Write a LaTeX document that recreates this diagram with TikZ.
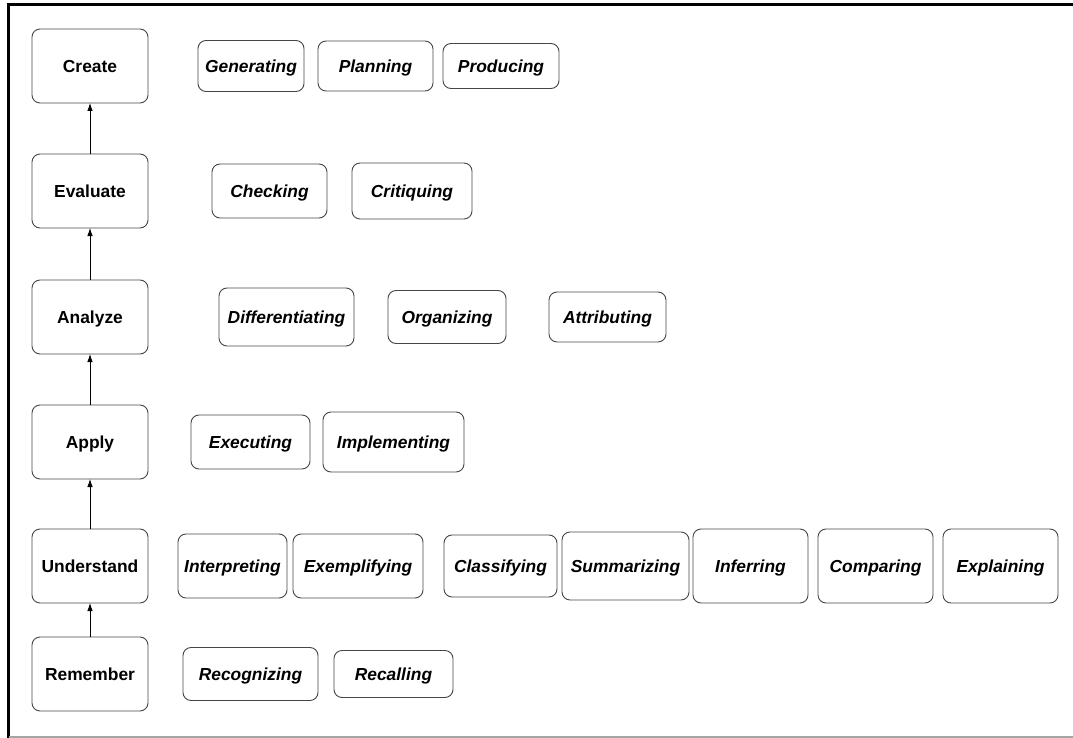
\documentclass[tikz,border=0pt]{standalone}
\usepackage{fontspec}
\setmainfont{Liberation Sans}
\usepackage{xcolor}
\usetikzlibrary{positioning,arrows.meta}
\definecolor{boxgray}{RGB}{70,70,70}
\definecolor{framegray}{RGB}{165,165,165}

\begin{document}
\begin{tikzpicture}[x=1pt, y=-1pt,
  level/.style={draw=boxgray, line width=0.9pt, rounded corners=8pt, minimum width=116pt,
                minimum height=74pt, inner sep=2pt, outer sep=0pt, align=center,
                text height=12.5pt, text depth=0pt,
                font=\fontsize{17.4}{20}\selectfont\bfseries},
  verb/.style={level, minimum width=#1, font=\fontsize{17.4}{20}\selectfont\bfseries\itshape},
  arr/.style={-{Latex[length=8pt,width=5.5pt]}, line width=0.8pt}]
\useasboundingbox (0,0) rectangle (1073,738);
% frame
\draw[line width=3pt] (8.5,738) -- (8.5,5) -- (1073,5);
\draw[framegray, line width=1.2pt] (8.5,737) -- (1073,737);
% levels
\node[level] (create) at (90,66) {Create};
\node[level, below=51pt of create] (evaluate) {Evaluate};
\node[level, below=52pt of evaluate] (analyze) {Analyze};
\node[level, below=51pt of analyze] (apply) {Apply};
\node[level, below=50pt of apply] (understand) {Understand};
\node[level, below=34pt of understand] (remember) {Remember};
\draw[arr] (remember) -- (understand);
\draw[arr] (understand) -- (apply);
\draw[arr] (apply) -- (analyze);
\draw[arr] (analyze) -- (evaluate);
\draw[arr] (evaluate) -- (create);
% create
\node[verb=106pt, minimum height=51pt, right=50pt of create] (gen) {Generating};
\node[verb=115pt, minimum height=50pt, right=14pt of gen] (plan) {Planning};
\node[verb=116pt, minimum height=45pt, right=10pt of plan] (prod) {Producing};
% evaluate
\node[verb=115pt, minimum height=54pt, right=64pt of evaluate] (check) {Checking};
\node[verb=120pt, minimum height=56pt, right=25pt of check] (crit) {Critiquing};
% analyze
\node[verb=135pt, minimum height=58pt, right=71pt of analyze] (diff) {Differentiating};
\node[verb=118pt, minimum height=53pt, right=34pt of diff] (org) {Organizing};
\node[verb=117pt, minimum height=50pt, right=43pt of org] (attr) {Attributing};
% apply
\node[verb=119pt, minimum height=54pt, right=43pt of apply] (exec) {Executing};
\node[verb=141pt, minimum height=60pt, right=13pt of exec] (impl) {Implementing};
% understand
\node[verb=109pt, minimum height=64pt, right=30pt of understand] (interp) {Interpreting};
\node[verb=130pt, minimum height=64pt, right=6pt of interp] (exempl) {Exemplifying};
\node[verb=113pt, minimum height=62pt, right=21pt of exempl] (class) {Classifying};
\node[verb=127pt, minimum height=68pt, right=5pt of class] (summ) {Summarizing};
\node[verb=115pt, minimum height=74pt, right=4pt of summ] (infer) {Inferring};
\node[verb=115pt, minimum height=74pt, right=10pt of infer] (comp) {Comparing};
\node[verb=115pt, minimum height=74pt, right=10pt of comp] (expl) {Explaining};
% remember
\node[verb=135pt, minimum height=53pt, right=35pt of remember] (recog) {Recognizing};
\node[verb=119pt, minimum height=47pt, right=16pt of recog] (recall) {Recalling};
\end{tikzpicture}
\end{document}
